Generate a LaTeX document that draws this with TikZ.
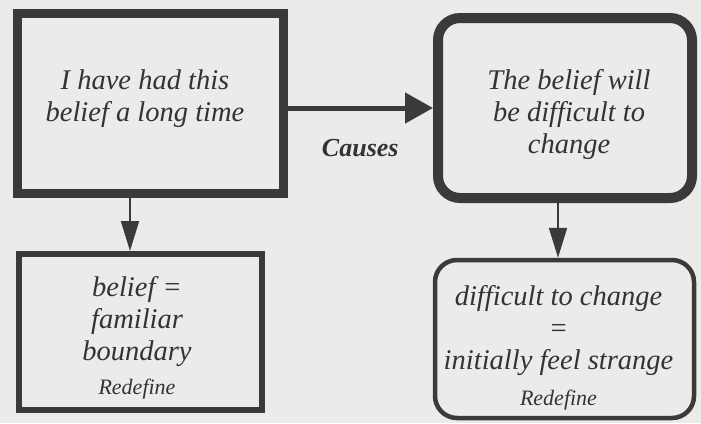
\documentclass[tikz,border=0pt]{standalone}
\usepackage{fontspec}
\setmainfont{Liberation Serif}
\usetikzlibrary{arrows.meta}
\definecolor{bg}{HTML}{EBEBEA}
\definecolor{ink}{HTML}{3A3A3A}
\definecolor{txt}{HTML}{333333}
\tikzset{
  x=1pt, y=-1pt,
  boxbase/.style={draw=ink, inner sep=0pt},
  sqbox/.style={boxbase},
  rndbox/.style={boxbase, rounded corners=22pt},
  boxtext/.style={align=center, text=txt, inner sep=0pt,
    font=\fontsize{28.5}{32}\selectfont\itshape},
  conn/.style={draw=ink},
}
\newcommand{\redef}{{\fontsize{22}{22}\selectfont Redefine}}
\begin{document}
\begin{tikzpicture}
\fill[bg] (0,0) rectangle (701,423);
\useasboundingbox (0,0) rectangle (701,423);
\node[sqbox, line width=9pt, minimum width=266pt, minimum height=180pt] (a) at (150,103) {};
\node[rndbox, line width=10pt, minimum width=254pt, minimum height=180pt] (b) at (565,108) {};
\node[sqbox, line width=6pt, minimum width=243pt, minimum height=156pt] (c) at (140,332) {};
\node[rndbox, line width=4.5pt, minimum width=259pt, minimum height=158pt] (d) at (564.5,339) {};
\node[boxtext] (at) at ([shift={(-5,-4.5)}]a.center) {I have had this\\belief a long time};
\node[boxtext] (bt) at ([shift={(4,6)}]b.center) {The belief will\\be difficult to\\change};
\node[boxtext] (ct) at ([shift={(-3,6)}]c.center) {belief =\\familiar\\boundary\\[2pt]\redef};
\node[boxtext] (dt) at ([shift={(-6,9)}]d.center) {difficult to change\\=\\initially feel strange\\[4pt]\redef};
\draw[conn, line width=5pt, -{Triangle[length=28pt, width=30pt]}] (a.east |- 0,108) -- (b.west |- 0,108)
  node[midway, below=25pt, text=txt, font=\fontsize{26}{28}\selectfont\bfseries\itshape] (lbl) {Causes};
\draw[conn, line width=2pt, -{Triangle[length=30pt, width=18pt]}] (a.south -| 130,0) -- (c.north -| 130,0);
\draw[conn, line width=2pt, -{Triangle[length=30pt, width=18pt]}] (b.south -| 558,0) -- (d.north -| 558,0);
\end{tikzpicture}
\end{document}
